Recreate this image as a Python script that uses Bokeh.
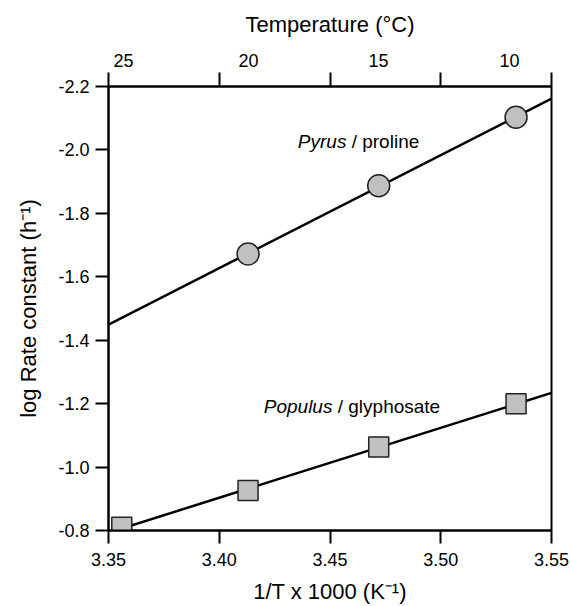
import numpy as np
from bokeh.plotting import figure
from bokeh.models import Range1d, FixedTicker, LinearAxis, NumeralTickFormatter, CustomJSTickFormatter
from bokeh.core.properties import value
from bokeh.embed import file_html
from bokeh.resources import INLINE

# ---- data ----
pyrus_x = [3.413, 3.472, 3.534]
pyrus_y = [-1.672, -1.887, -2.103]
populus_x = [3.356, 3.413, 3.472, 3.534]
populus_y = [-0.810, -0.926, -1.063, -1.200]
x_ticks = [3.35, 3.40, 3.45, 3.50, 3.55]
y_ticks = [-2.2, -2.0, -1.8, -1.6, -1.4, -1.2, -1.0, -0.8]
# top (temperature) axis: labels and where they sit on the 1/T scale
temp_labels = ["25", "20", "15", "10"]
temp_label_pos = [3.3568, 3.4132, 3.4719, 3.5310]

FONT = "Liberation Sans"
TICK_FS = "18px"
TITLE_FS = "22px"
ANNOT_FS = "19px"

p = figure(frame_width=443, frame_height=444,
           x_range=Range1d(3.35, 3.55), y_range=Range1d(-0.8, -2.2),
           output_backend="svg", toolbar_location=None,
           min_border_left=108, min_border_right=20,
           min_border_top=86, min_border_bottom=76)
p.background_fill_color = "white"
p.border_fill_color = "white"
p.xgrid.visible = False
p.ygrid.visible = False
p.outline_line_color = "black"
p.outline_line_width = 2
p.outline_line_alpha = 1.0


def style_axis(ax):
    ax.axis_line_width = 2
    ax.axis_line_color = "black"
    ax.major_tick_line_width = 2
    ax.major_tick_line_color = "black"
    ax.major_tick_in = 0
    ax.major_tick_out = 13
    ax.minor_tick_line_color = None
    ax.major_label_text_font = FONT
    ax.major_label_text_font_size = TICK_FS
    ax.major_label_text_color = "black"
    ax.axis_label_text_font = FONT
    ax.axis_label_text_font_size = TITLE_FS
    ax.axis_label_text_font_style = "normal"
    ax.axis_label_text_color = "black"


xa = p.xaxis[0]
xa.ticker = FixedTicker(ticks=x_ticks)
xa.formatter = NumeralTickFormatter(format="0.00")
xa.axis_label = "1/T x 1000 (K\u207b\u00b9)"
style_axis(xa)
xa.major_label_standoff = 9
xa.axis_label_standoff = 10

ya = p.yaxis[0]
ya.ticker = FixedTicker(ticks=y_ticks)
ya.formatter = NumeralTickFormatter(format="0.0")
ya.axis_label = "log Rate constant (h\u207b\u00b9)"
style_axis(ya)
ya.major_label_standoff = 6
ya.axis_label_standoff = 14

top = LinearAxis(ticker=FixedTicker(ticks=temp_label_pos, minor_ticks=x_ticks),
                 formatter=CustomJSTickFormatter(args=dict(labels=temp_labels),
                                                 code="return labels[index];"),
                 axis_label="Temperature (\u00b0C)")
style_axis(top)
top.major_tick_out = 0
top.major_tick_line_color = None
top.minor_tick_line_color = "black"
top.minor_tick_line_width = 2
top.minor_tick_in = 0
top.minor_tick_out = 14
top.major_label_standoff = 6
top.axis_label_standoff = 14
p.add_layout(top, "above")

# regression lines over the full x range
xr = np.array([3.35, 3.55])
for xs, ys in ((pyrus_x, pyrus_y), (populus_x, populus_y)):
    m, b = np.polyfit(xs, ys, 1)
    p.line(xr, m * xr + b, line_color="black", line_width=2.5)

p.scatter(pyrus_x, pyrus_y, marker="circle", size=22, fill_color="#c0c0c0",
          line_color="#222222", line_width=1.5)
p.scatter(populus_x, populus_y, marker="square", size=20, fill_color="#c0c0c0",
          line_color="#222222", line_width=1.5)

# annotations
common = dict(text_font=value(FONT), text_font_size=ANNOT_FS, text_baseline="middle",
              text_color="black")
p.text(x=[3.4574], y=[-2.027], text=["Pyrus"], text_align="right",
       text_font_style="italic", **common)
p.text(x=[3.4574], y=[-2.027], text=["\u00a0/ proline"], text_align="left", **common)
p.text(x=[3.4511], y=[-1.191], text=["Populus"], text_align="right",
       text_font_style="italic", **common)
p.text(x=[3.4511], y=[-1.191], text=["\u00a0/ glyphosate"], text_align="left", **common)

open("out.html", "w").write(file_html(p, INLINE))
